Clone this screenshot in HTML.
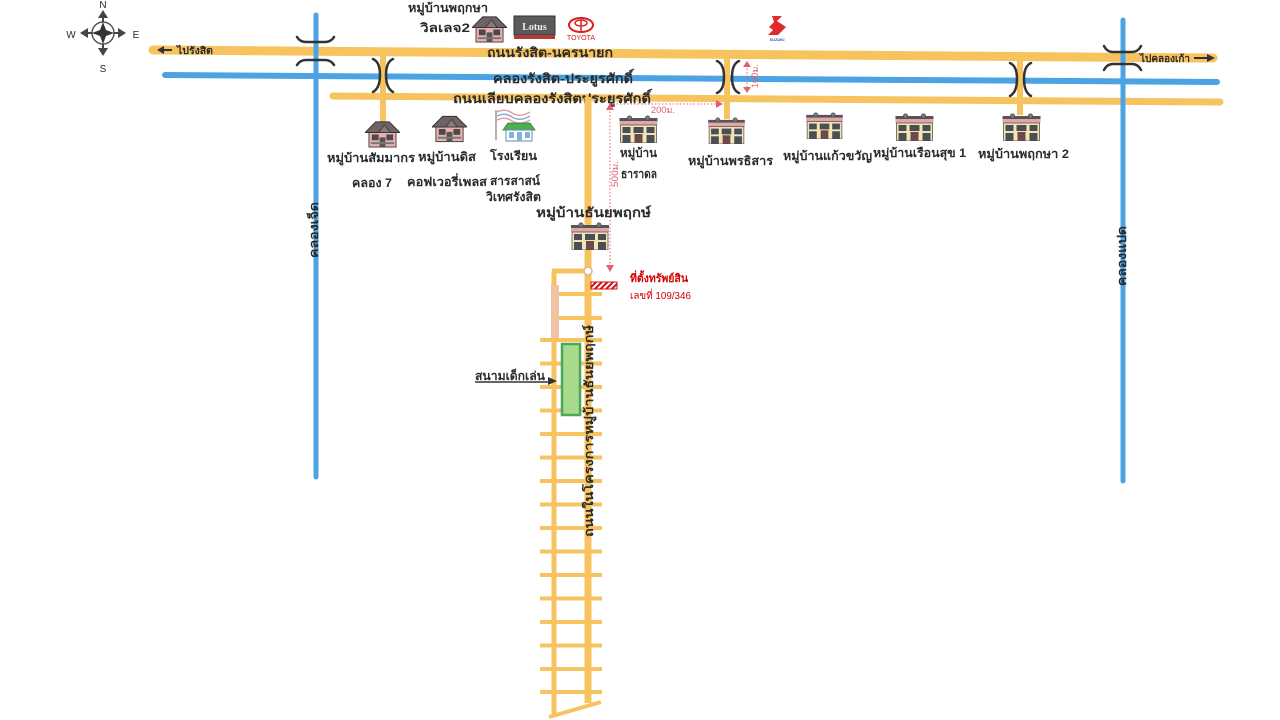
<!DOCTYPE html>
<html>
<head>
<meta charset="utf-8">
<style>
  html,body{margin:0;padding:0;background:#fff;}
  svg{display:block;}
  text{font-family:"Liberation Sans","Noto Sans CJK SC",sans-serif;fill:#2a2a2a;font-weight:bold;}
</style>
</head>
<body>
<svg width="1280" height="720" viewBox="0 0 1280 720" xmlns="http://www.w3.org/2000/svg">
  <defs>
    <symbol id="town" viewBox="0 0 38 28">
      <rect x="0" y="3" width="38" height="3" fill="#555"/>
      <circle cx="10" cy="3" r="2.2" fill="#777" stroke="#444" stroke-width="0.6"/>
      <circle cx="28" cy="3" r="2.2" fill="#777" stroke="#444" stroke-width="0.6"/>
      <rect x="0" y="6" width="38" height="4" fill="#e6a3aa"/>
      <rect x="1" y="10" width="36" height="18" fill="#f4e4b4" stroke="#555" stroke-width="0.8"/>
      <rect x="3" y="12" width="8" height="6" fill="#4a4f55"/>
      <rect x="14" y="12" width="10" height="6" fill="#4a4f55"/>
      <rect x="27" y="12" width="8" height="6" fill="#4a4f55"/>
      <rect x="3" y="20" width="8" height="8" fill="#4a4f55"/>
      <rect x="15" y="19" width="8" height="9" fill="#6a4a4a"/>
      <rect x="27" y="20" width="8" height="8" fill="#4a4f55"/>
    </symbol>
    <symbol id="house" viewBox="0 0 36 30">
      <rect x="4" y="12" width="28" height="17" fill="#eab0ae" stroke="#444" stroke-width="1"/>
      <polygon points="0,14 11,3 25,3 36,14" fill="#6f6464" stroke="#333" stroke-width="1"/>
      <polygon points="14,14 20,6 26,14" fill="#8a7c7c" stroke="#333" stroke-width="0.8"/>
      <rect x="7" y="16" width="7" height="6" fill="#4a4a4a"/>
      <rect x="22" y="16" width="7" height="6" fill="#4a4a4a"/>
      <rect x="15" y="19" width="6" height="10" fill="#555"/>
      <rect x="6" y="24" width="24" height="2" fill="#777"/>
    </symbol>
    <pattern id="hatch" width="4" height="4" patternUnits="userSpaceOnUse" patternTransform="rotate(45)">
      <rect width="4" height="4" fill="#fff"/>
      <rect width="2" height="4" fill="#d01010"/>
    </pattern>
  </defs>

  <!-- Compass -->
  <g>
    <circle cx="103" cy="33" r="11" fill="none" stroke="#555" stroke-width="1.5"/>
    <polygon points="103,22 106,30 114,33 106,36 103,44 100,36 92,33 100,30" fill="#333"/>
    <polygon points="103,10 98,18 108,18" fill="#444"/>
    <polygon points="103,56 98,48 108,48" fill="#444"/>
    <polygon points="80,33 88,28 88,38" fill="#444"/>
    <polygon points="126,33 118,28 118,38" fill="#444"/>
    <line x1="103" y1="18" x2="103" y2="22" stroke="#444" stroke-width="2"/>
    <line x1="103" y1="44" x2="103" y2="48" stroke="#444" stroke-width="2"/>
    <line x1="88" y1="33" x2="92" y2="33" stroke="#444" stroke-width="2"/>
    <line x1="114" y1="33" x2="118" y2="33" stroke="#444" stroke-width="2"/>
    <text x="103" y="8" font-size="10" text-anchor="middle" style="font-weight:normal">N</text>
    <text x="103" y="72" font-size="10" text-anchor="middle" style="font-weight:normal">S</text>
    <text x="71" y="38" font-size="10" text-anchor="middle" style="font-weight:normal">W</text>
    <text x="136" y="38" font-size="10" text-anchor="middle" style="font-weight:normal">E</text>
  </g>

  <!-- Horizontal canal -->
  <line x1="165" y1="75" x2="1217" y2="82" stroke="#4ba3e3" stroke-width="6" stroke-linecap="round"/>
  <!-- Top road -->
  <line x1="153" y1="50" x2="1213" y2="58" stroke="#f7c35f" stroke-width="9" stroke-linecap="round"/>
  <!-- Second road -->
  <line x1="333" y1="96" x2="1220" y2="102" stroke="#f7c35f" stroke-width="7" stroke-linecap="round"/>

  <!-- Vertical canals -->
  <line x1="316" y1="15" x2="316" y2="477" stroke="#4ba3e3" stroke-width="5" stroke-linecap="round"/>
  <line x1="1123" y1="20" x2="1123" y2="481" stroke="#4ba3e3" stroke-width="5" stroke-linecap="round"/>

  <!-- Connector roads -->
  <line x1="383" y1="52" x2="383" y2="122" stroke="#f7c35f" stroke-width="6"/>
  <line x1="727" y1="55" x2="727" y2="119" stroke="#f7c35f" stroke-width="6"/>
  <line x1="1020" y1="57" x2="1020" y2="115" stroke="#f7c35f" stroke-width="6"/>

  <!-- Bridge brackets -->
  <g fill="none" stroke="#333" stroke-width="2.5" stroke-linecap="round">
    <path d="M297,37 Q300,42 306,42 L325,42 Q331,42 334,37"/>
    <path d="M297,65 Q300,60 306,60 L325,60 Q331,60 334,65"/>
    <path d="M1104,46 Q1107,52 1113,52 L1132,52 Q1138,52 1141,46"/>
    <path d="M1104,70 Q1107,64 1113,64 L1132,64 Q1138,64 1141,70"/>
    <path d="M373,59 Q380,62 380,75 Q380,88 373,92"/>
    <path d="M393,59 Q386,62 386,75 Q386,88 393,92"/>
    <path d="M717,61 Q724,64 724,77 Q724,90 717,93"/>
    <path d="M739,61 Q732,64 732,77 Q732,90 739,93"/>
    <path d="M1010,63 Q1017,66 1017,79 Q1017,92 1010,96"/>
    <path d="M1031,63 Q1024,66 1024,79 Q1024,92 1031,96"/>
  </g>

  <!-- Direction labels -->
  <g>
    <line x1="160" y1="50" x2="172" y2="50" stroke="#333" stroke-width="2"/>
    <polygon points="157,50 164,46 164,54" fill="#333"/>
    <text x="177" y="54" font-size="10" textLength="36" lengthAdjust="spacingAndGlyphs">ไปรังสิต</text>
    <text x="1140" y="62" font-size="10" textLength="50" lengthAdjust="spacingAndGlyphs">ไปคลองเก้า</text>
    <line x1="1194" y1="58" x2="1209" y2="58" stroke="#333" stroke-width="2"/>
    <polygon points="1215,58 1207,54 1207,62" fill="#333"/>
  </g>

  <!-- Road names -->
  <text x="487" y="57" font-size="13" textLength="126" lengthAdjust="spacingAndGlyphs">ถนนรังสิต-นครนายก</text>
  <text x="493" y="83" font-size="13" textLength="140" lengthAdjust="spacingAndGlyphs">คลองรังสิต-ประยูรศักดิ์</text>
  <text x="453" y="103" font-size="13" textLength="198" lengthAdjust="spacingAndGlyphs">ถนนเลียบคลองรังสิตประยูรศักดิ์</text>

  <!-- Top landmarks -->
  <text x="408" y="12" font-size="12" textLength="80" lengthAdjust="spacingAndGlyphs">หมู่บ้านพฤกษา</text>
  <text x="420" y="32" font-size="12" textLength="50" lengthAdjust="spacingAndGlyphs">วิลเลจ2</text>
  <use href="#house" x="472" y="14" width="35" height="29"/>
  <!-- Lotus -->
  <rect x="514" y="16" width="41" height="19" fill="#5a5a5a" stroke="#333" stroke-width="1"/>
  <text x="534.5" y="30" font-size="10" text-anchor="middle" style="fill:#eee;font-family:'Liberation Serif',serif">Lotus</text>
  <rect x="514" y="35" width="41" height="4" fill="#b33a3a"/>
  <!-- Toyota -->
  <ellipse cx="581" cy="25" rx="12" ry="7" fill="none" stroke="#d82020" stroke-width="2"/>
  <ellipse cx="581" cy="23" rx="6" ry="3" fill="none" stroke="#d82020" stroke-width="1.5"/>
  <line x1="581" y1="20" x2="581" y2="31" stroke="#d82020" stroke-width="1.5"/>
  <text x="581" y="40" font-size="7" text-anchor="middle" style="fill:#d82020;font-weight:normal">TOYOTA</text>
  <!-- Suzuki -->
  <polygon points="772,16 782,16 777,21 786,27 778,35 768,35 773,30 769,27 774,22" fill="#e02a2a"/>
  <text x="777" y="41" font-size="4" text-anchor="middle" style="fill:#3050a0">SUZUKI</text>

  <!-- Main vertical road & ladder -->
  <g stroke="#f7c35f" stroke-linecap="butt">
    <line x1="588" y1="97" x2="588" y2="703" stroke-width="7"/>
    <line x1="554" y1="271" x2="554" y2="716" stroke-width="5"/>
    <line x1="552" y1="271" x2="588" y2="271" stroke-width="5"/>
    <line x1="549" y1="717" x2="601" y2="702" stroke-width="4"/>
    <g stroke-width="4">
      <line x1="556" y1="294" x2="602" y2="294"/>
      <line x1="556" y1="318" x2="602" y2="318"/>
      <line x1="540" y1="340" x2="602" y2="340"/>
      <line x1="540" y1="363.5" x2="602" y2="363.5"/>
      <line x1="540" y1="387" x2="602" y2="387"/>
      <line x1="540" y1="410.5" x2="602" y2="410.5"/>
      <line x1="540" y1="434" x2="602" y2="434"/>
      <line x1="540" y1="457.5" x2="602" y2="457.5"/>
      <line x1="540" y1="481" x2="602" y2="481"/>
      <line x1="540" y1="504.5" x2="602" y2="504.5"/>
      <line x1="540" y1="528" x2="602" y2="528"/>
      <line x1="540" y1="551.5" x2="602" y2="551.5"/>
      <line x1="540" y1="575" x2="602" y2="575"/>
      <line x1="540" y1="598.5" x2="602" y2="598.5"/>
      <line x1="540" y1="622" x2="602" y2="622"/>
      <line x1="540" y1="645.5" x2="602" y2="645.5"/>
      <line x1="540" y1="669" x2="602" y2="669"/>
      <line x1="540" y1="692" x2="602" y2="692"/>
    </g>
  </g>
  <line x1="555" y1="285" x2="555" y2="338" stroke="#f2c2a6" stroke-width="8"/>
  <circle cx="588" cy="271" r="4" fill="#fff" stroke="#e8ae8c" stroke-width="1.5"/>

  <!-- Playground -->
  <rect x="562" y="344" width="18" height="71" fill="#a9d98a" stroke="#4aa859" stroke-width="2.5"/>
  <text x="475" y="380" font-size="12" textLength="70" lengthAdjust="spacingAndGlyphs">สนามเด็กเล่น</text>
  <line x1="475" y1="382" x2="551" y2="382" stroke="#333" stroke-width="1.5"/>
  <polygon points="557,381 548,377 548,385" fill="#333"/>

  <!-- Main road label (vertical) -->
  <text transform="translate(589,431) rotate(-90)" y="4" font-size="12" text-anchor="middle" textLength="212" lengthAdjust="spacingAndGlyphs">ถนนในโครงการหมู่บ้านธันยพฤกษ์</text>

  <!-- Canal labels -->
  <text transform="translate(313,230) rotate(-90)" y="5" font-size="12" text-anchor="middle" textLength="56" lengthAdjust="spacingAndGlyphs">คลองเจ็ด</text>
  <text transform="translate(1121,256) rotate(-90)" y="5" font-size="12" text-anchor="middle" textLength="60" lengthAdjust="spacingAndGlyphs">คลองแปด</text>

  <!-- Measurements -->
  <g stroke="#e06070" stroke-width="1" fill="none" stroke-dasharray="1.5 2">
    <line x1="610" y1="108" x2="610" y2="266"/>
    <line x1="613" y1="104" x2="718" y2="104"/>
    <line x1="747" y1="65" x2="747" y2="89"/>
  </g>
  <g fill="#e06070">
    <polygon points="610,103 606,110 614,110"/>
    <polygon points="610,272 606,265 614,265"/>
    <polygon points="723,104 716,100 716,108"/>
    <polygon points="747,61 743,67 751,67"/>
    <polygon points="747,93 743,87 751,87"/>
  </g>
  <text x="651" y="113" font-size="9" style="fill:#e06070;font-weight:normal" textLength="24" lengthAdjust="spacingAndGlyphs">200ม.</text>
  <text transform="translate(615,174) rotate(-90)" y="3" font-size="9" text-anchor="middle" style="fill:#e06070;font-weight:normal" textLength="26" lengthAdjust="spacingAndGlyphs">500ม.</text>
  <text transform="translate(755,76) rotate(-90)" y="3" font-size="9" text-anchor="middle" style="fill:#e06070;font-weight:normal" textLength="24" lengthAdjust="spacingAndGlyphs">100ม.</text>

  <!-- Property marker -->
  <rect x="591" y="282" width="26" height="7" fill="url(#hatch)" stroke="#d01010" stroke-width="1"/>
  <text x="630" y="282" font-size="11" style="fill:#d00000" textLength="58" lengthAdjust="spacingAndGlyphs">ที่ตั้งทรัพย์สิน</text>
  <text x="630" y="299" font-size="10" style="fill:#d00000;font-weight:normal" textLength="61" lengthAdjust="spacingAndGlyphs">เลขที่ 109/346</text>

  <!-- Village icons -->
  <use href="#house" x="365" y="119" width="35" height="29"/>
  <use href="#house" x="432" y="113" width="35" height="30"/>
  <!-- School -->
  <g>
    <line x1="496" y1="110" x2="496" y2="140" stroke="#999" stroke-width="1.5"/>
    <path d="M497,112 Q505,108 512,113 Q520,118 530,112" fill="none" stroke="#e69aa8" stroke-width="1.5"/>
    <path d="M497,116 Q505,112 512,117 Q520,122 530,116" fill="none" stroke="#8aaad8" stroke-width="1.5"/>
    <path d="M497,120 Q505,116 512,121 Q520,126 530,120" fill="none" stroke="#e69aa8" stroke-width="1.5"/>
    <polygon points="503,130 508,123 530,123 535,130" fill="#4caf50" stroke="#2e7d32" stroke-width="0.8"/>
    <rect x="506" y="130" width="26" height="11" fill="#fff" stroke="#6a8ab0" stroke-width="1"/>
    <rect x="509" y="132" width="5" height="6" fill="#7fb3e0"/>
    <rect x="517" y="132" width="5" height="9" fill="#7fb3e0"/>
    <rect x="525" y="132" width="5" height="6" fill="#7fb3e0"/>
  </g>
  <use href="#town" x="619" y="115" width="39" height="28"/>
  <use href="#town" x="707" y="117" width="39" height="27"/>
  <use href="#town" x="805" y="112" width="39" height="27"/>
  <use href="#town" x="895" y="113" width="39" height="28"/>
  <use href="#town" x="1002" y="113" width="39" height="28"/>
  <use href="#town" x="570" y="222" width="40" height="28"/>

  <!-- Village labels -->
  <text x="327" y="162" font-size="12" textLength="88" lengthAdjust="spacingAndGlyphs">หมู่บ้านสัมมากร</text>
  <text x="352" y="187" font-size="12" textLength="40" lengthAdjust="spacingAndGlyphs">คลอง 7</text>
  <text x="418" y="161" font-size="12" textLength="58" lengthAdjust="spacingAndGlyphs">หมู่บ้านดิส</text>
  <text x="407" y="186" font-size="12" textLength="80" lengthAdjust="spacingAndGlyphs">คอฟเวอรี่เพลส</text>
  <text x="490" y="160" font-size="12" textLength="47" lengthAdjust="spacingAndGlyphs">โรงเรียน</text>
  <text x="490" y="185" font-size="12" textLength="50" lengthAdjust="spacingAndGlyphs">สารสาสน์</text>
  <text x="486" y="201" font-size="12" textLength="55" lengthAdjust="spacingAndGlyphs">วิเทศรังสิต</text>
  <text x="620" y="157" font-size="12" textLength="37" lengthAdjust="spacingAndGlyphs">หมู่บ้าน</text>
  <text x="621" y="178" font-size="12" textLength="36" lengthAdjust="spacingAndGlyphs">ธาราดล</text>
  <text x="688" y="165" font-size="12" textLength="85" lengthAdjust="spacingAndGlyphs">หมู่บ้านพรธิสาร</text>
  <text x="783" y="160" font-size="12" textLength="89" lengthAdjust="spacingAndGlyphs">หมู่บ้านแก้วขวัญ</text>
  <text x="873" y="157" font-size="12" textLength="93" lengthAdjust="spacingAndGlyphs">หมู่บ้านเรือนสุข 1</text>
  <text x="978" y="158" font-size="12" textLength="91" lengthAdjust="spacingAndGlyphs">หมู่บ้านพฤกษา 2</text>
  <text x="536" y="217" font-size="13" textLength="115" lengthAdjust="spacingAndGlyphs">หมู่บ้านธันยพฤกษ์</text>
</svg>
</body>
</html>
